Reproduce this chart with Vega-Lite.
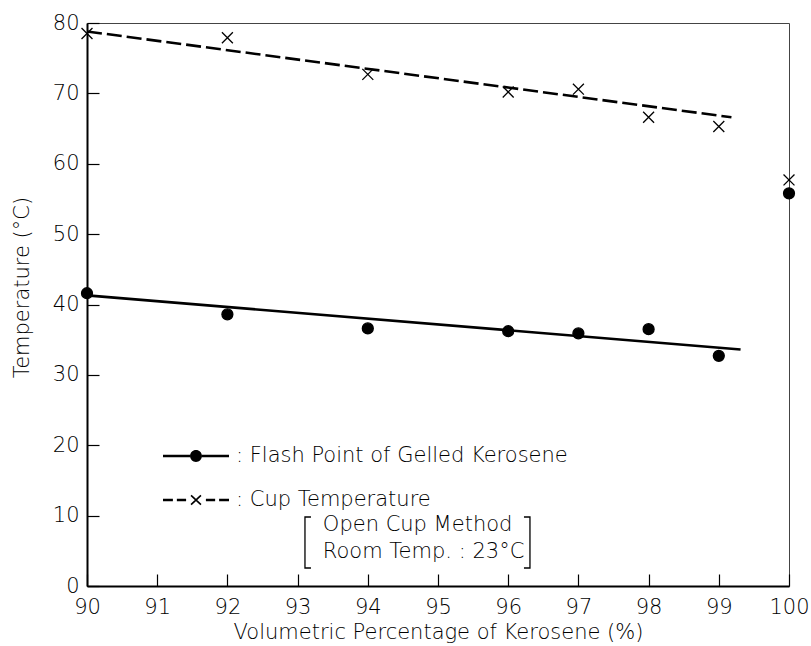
{
  "$schema": "https://vega.github.io/schema/vega-lite/v6.json",
  "width": 702,
  "height": 563,
  "autosize": {"type": "none"},
  "padding": {"left": 87, "top": 23, "right": 22, "bottom": 60},
  "background": "white",
  "config": {
    "font": "DejaVu Sans",
    "view": {"stroke": "#444", "strokeWidth": 1},
    "axis": {
      "grid": false,
      "domainColor": "black",
      "domainWidth": 2,
      "tickColor": "black",
      "tickWidth": 1.2,
      "labelColor": "black",
      "labelFontSize": 21,
      "labelFont": "DejaVu Sans",
      "labelFontWeight": 300,
      "titleColor": "black",
      "titleFontSize": 21,
      "titleFontWeight": 300,
      "titleFont": "DejaVu Sans"
    }
  },
  "datasets": {
    "points": [
      {"pct": 90, "temp": 41.6, "series": "Flash Point of Gelled Kerosene"},
      {"pct": 92, "temp": 38.6, "series": "Flash Point of Gelled Kerosene"},
      {"pct": 94, "temp": 36.6, "series": "Flash Point of Gelled Kerosene"},
      {"pct": 96, "temp": 36.2, "series": "Flash Point of Gelled Kerosene"},
      {"pct": 97, "temp": 35.9, "series": "Flash Point of Gelled Kerosene"},
      {"pct": 98, "temp": 36.5, "series": "Flash Point of Gelled Kerosene"},
      {"pct": 99, "temp": 32.7, "series": "Flash Point of Gelled Kerosene"},
      {"pct": 100, "temp": 55.8, "series": "Flash Point of Gelled Kerosene"},
      {"pct": 90, "temp": 78.5, "series": "Cup Temperature"},
      {"pct": 92, "temp": 77.9, "series": "Cup Temperature"},
      {"pct": 94, "temp": 72.7, "series": "Cup Temperature"},
      {"pct": 96, "temp": 70.2, "series": "Cup Temperature"},
      {"pct": 97, "temp": 70.6, "series": "Cup Temperature"},
      {"pct": 98, "temp": 66.6, "series": "Cup Temperature"},
      {"pct": 99, "temp": 65.3, "series": "Cup Temperature"},
      {"pct": 100, "temp": 57.7, "series": "Cup Temperature"}
    ],
    "fit": [
      {"pct": 90, "temp": 41.3, "series": "Flash Point of Gelled Kerosene"},
      {"pct": 99.31, "temp": 33.6, "series": "Flash Point of Gelled Kerosene"},
      {"pct": 90, "temp": 78.8, "series": "Cup Temperature"},
      {"pct": 99.18, "temp": 66.6, "series": "Cup Temperature"}
    ]
  },
  "resolve": {"scale": {"shape": "independent"}, "legend": {"shape": "independent"}},
  "layer": [
    {
      "data": {"name": "fit"},
      "transform": [{"filter": "datum.series === 'Flash Point of Gelled Kerosene'"}],
      "mark": {"type": "line", "color": "black", "strokeWidth": 2.6},
      "encoding": {
        "x": {
          "field": "pct", "type": "quantitative",
          "scale": {"domain": [90, 100], "nice": false, "zero": false},
          "axis": {
            "values": [90, 91, 92, 93, 94, 95, 96, 97, 98, 99, 100],
            "format": "d",
            "tickSize": -12,
            "labelPadding": 22,
            "labelFlush": false,
            "title": "Volumetric Percentage of Kerosene (%)",
            "titleY": 35,
            "titleBaseline": "top"
          }
        },
        "y": {
          "field": "temp", "type": "quantitative",
          "scale": {"domain": [0, 80], "nice": false},
          "axis": {
            "values": [0, 10, 20, 30, 40, 50, 60, 70, 80],
            "format": "d",
            "tickSize": -12,
            "labelPadding": 20,
            "labelFlush": false,
            "title": "Temperature (°C)",
            "titleX": -55,
            "titleY": 264,
            "titleAngle": -90,
            "titleAlign": "center",
            "titleBaseline": "bottom"
          }
        }
      }
    },
    {
      "data": {"name": "fit"},
      "transform": [{"filter": "datum.series === 'Cup Temperature'"}],
      "mark": {"type": "line", "color": "black", "strokeWidth": 2.6, "strokeDash": [15, 5]},
      "encoding": {
        "x": {"field": "pct", "type": "quantitative"},
        "y": {"field": "temp", "type": "quantitative"}
      }
    },
    {
      "data": {"name": "points"},
      "mark": {"type": "point", "filled": true, "fill": "black", "stroke": "black", "strokeWidth": 1.3, "size": 120, "opacity": 1},
      "encoding": {
        "x": {"field": "pct", "type": "quantitative"},
        "y": {"field": "temp", "type": "quantitative"},
        "shape": {
          "field": "series", "type": "nominal",
          "scale": {"domain": ["Flash Point of Gelled Kerosene", "Cup Temperature"], "range": ["circle", "M-1,-1L1,1M-1,1L1,-1"]},
          "legend": null
        }
      }
    },
    {
      "data": {"name": "points"},
      "mark": {"type": "point", "filled": true, "fill": "black", "stroke": "black", "strokeWidth": 1.2, "size": 120, "opacity": 0},
      "encoding": {
        "x": {"field": "pct", "type": "quantitative"},
        "y": {"field": "temp", "type": "quantitative"},
        "shape": {
          "field": "series", "type": "nominal",
          "scale": {
            "domain": ["Flash Point of Gelled Kerosene", "Cup Temperature"],
            "range": [
              "M-1,-0.038H-0.18V0.038H-1Z M0.18,-0.038H1V0.038H0.18Z M0.18,0A0.18,0.18 0 1,1 -0.18,0A0.18,0.18 0 1,1 0.18,0Z",
              "M-1,-0.035H-0.7V0.035H-1Z M-0.58,-0.035H-0.3V0.035H-0.58Z M0.3,-0.035H0.58V0.035H0.3Z M0.7,-0.035H1V0.035H0.7Z M-0.167,-0.1217L0.133,0.1583L0.167,0.1217L-0.133,-0.1583Z M-0.133,0.1583L0.167,-0.1217L0.133,-0.1583L-0.167,0.1217Z"
            ]
          },
          "legend": {
            "title": null,
            "orient": "none",
            "legendX": 75,
            "legendY": 399,
            "padding": 0,
            "rowPadding": -16,
            "labelFontSize": 21,
            "labelFont": "DejaVu Sans",
            "labelFontWeight": 300,
            "labelColor": "black",
            "labelLimit": 0,
            "labelOffset": 6,
            "labelExpr": "': ' + datum.label",
            "symbolSize": 4356,
            "symbolOpacity": 1,
            "symbolFillColor": "black",
            "symbolStrokeColor": "black",
            "symbolStrokeWidth": 1.2
          }
        }
      }
    },
    {
      "data": {"values": [{}]},
      "mark": {"type": "text", "align": "left", "baseline": "middle", "fontSize": 21, "lineHeight": 27, "font": "DejaVu Sans", "fontWeight": 300, "color": "black"},
      "encoding": {
        "x": {"datum": 93.36, "type": "quantitative"},
        "y": {"datum": 8.67, "type": "quantitative"},
        "text": {"value": ["Open Cup Method", "Room Temp. : 23°C"]}
      }
    },
    {
      "data": {"values": [{}]},
      "mark": {"type": "point", "shape": "M0.235,-1H0V1H0.235", "size": 2601, "filled": false, "stroke": "black", "strokeWidth": 1.3, "opacity": 1},
      "encoding": {
        "x": {"datum": 93.105, "type": "quantitative"},
        "y": {"datum": 6.18, "type": "quantitative"}
      }
    },
    {
      "data": {"values": [{}]},
      "mark": {"type": "point", "shape": "M-0.235,-1H0V1H-0.235", "size": 2601, "filled": false, "stroke": "black", "strokeWidth": 1.3, "opacity": 1},
      "encoding": {
        "x": {"datum": 96.31, "type": "quantitative"},
        "y": {"datum": 6.18, "type": "quantitative"}
      }
    }
  ]
}
